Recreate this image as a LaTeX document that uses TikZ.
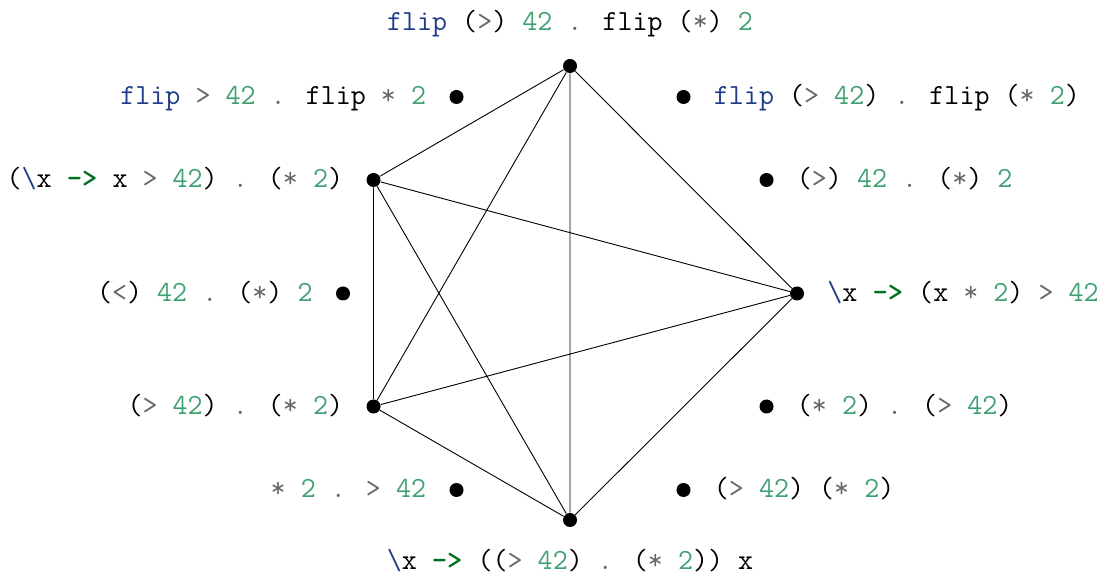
\documentclass[tikz,border=0pt]{standalone}
\usepackage{fontspec}
\definecolor{fn}{HTML}{1F3C88}
\definecolor{num}{HTML}{40A070}
\definecolor{op}{HTML}{666666}
\definecolor{kw}{HTML}{007020}
\newcommand{\Fl}{\textcolor{fn}{flip}}
\newcommand{\Nm}[1]{\textcolor{num}{#1}}
\newcommand{\Op}[1]{\textcolor{op}{#1}}
\newcommand{\Ar}{\textcolor{kw}{\bfseries ->}}
\newcommand{\Bs}{\textcolor{fn}{\textbackslash}}
\tikzset{
  dot/.style={circle,fill=black,inner sep=0pt,minimum size=7pt},
  lab/.style={inner sep=0pt,font=\fontsize{14.6}{17}\selectfont\ttfamily},
  edge/.style={line width=0.45pt}
}
\begin{document}
\begin{tikzpicture}[x=0.5pt,y=-0.5pt]
\useasboundingbox (0,0) rectangle (1113,576);
\node[dot] (n1) at (570,66) {};
\node[dot] (n2) at (456.5,97) {};
\node[dot] (n3) at (683.5,97) {};
\node[dot] (n4) at (373.5,180) {};
\node[dot] (n5) at (766.5,180) {};
\node[dot] (n6) at (343,293.5) {};
\node[dot] (n7) at (797,293.5) {};
\node[dot] (n8) at (373.5,406.5) {};
\node[dot] (n9) at (766.5,406.5) {};
\node[dot] (n10) at (456.5,490) {};
\node[dot] (n11) at (683.5,490) {};
\node[dot] (n12) at (570,520) {};

\draw[edge] (n1)--(n4) (n1)--(n8) (n1)--(n12) (n1)--(n7)
  (n4)--(n7) (n4)--(n8) (n4)--(n12) (n8)--(n7) (n8)--(n12) (n7)--(n12);

\node[lab,anchor=base] (l1) at ([yshift=17.5pt]n1.center) {\Fl{} (\Op{>}) \Nm{42} \Op{.} flip (\Op{*}) \Nm{2}};
\node[lab,anchor=mid east] (l2) at ([xshift=-15pt,yshift=-1.8pt]n2.center) {\Fl{} \Op{>} \Nm{42} \Op{.} flip \Op{*} \Nm{2}};
\node[lab,anchor=mid west] (l3) at ([xshift=15pt,yshift=-1.8pt]n3.center) {\Fl{} (\Op{>} \Nm{42}) \Op{.} flip (\Op{*} \Nm{2})};
\node[lab,anchor=mid east] (l4) at ([xshift=-15pt,yshift=-1.8pt]n4.center) {(\Bs x \Ar{} x \Op{>} \Nm{42}) \Op{.} (\Op{*} \Nm{2})};
\node[lab,anchor=mid west] (l5) at ([xshift=15pt,yshift=-1.8pt]n5.center) {(\Op{>}) \Nm{42} \Op{.} (\Op{*}) \Nm{2}};
\node[lab,anchor=mid east] (l6) at ([xshift=-15pt,yshift=-1.8pt]n6.center) {(\Op{<}) \Nm{42} \Op{.} (\Op{*}) \Nm{2}};
\node[lab,anchor=mid west] (l7) at ([xshift=15pt,yshift=-1.8pt]n7.center) {\Bs x \Ar{} (x \Op{*} \Nm{2}) \Op{>} \Nm{42}};
\node[lab,anchor=mid east] (l8) at ([xshift=-15pt,yshift=-1.8pt]n8.center) {(\Op{>} \Nm{42}) \Op{.} (\Op{*} \Nm{2})};
\node[lab,anchor=mid west] (l9) at ([xshift=15pt,yshift=-1.8pt]n9.center) {(\Op{*} \Nm{2}) \Op{.} (\Op{>} \Nm{42})};
\node[lab,anchor=mid east] (l10) at ([xshift=-15pt,yshift=-1.8pt]n10.center) {\Op{*} \Nm{2} \Op{.} \Op{>} \Nm{42}};
\node[lab,anchor=mid west] (l11) at ([xshift=15pt,yshift=-1.8pt]n11.center) {(\Op{>} \Nm{42}) (\Op{*} \Nm{2})};
\node[lab,anchor=base] (l12) at ([yshift=-24.5pt]n12.center) {\Bs x \Ar{} ((\Op{>} \Nm{42}) \Op{.} (\Op{*} \Nm{2})) x};
\end{tikzpicture}
\end{document}
